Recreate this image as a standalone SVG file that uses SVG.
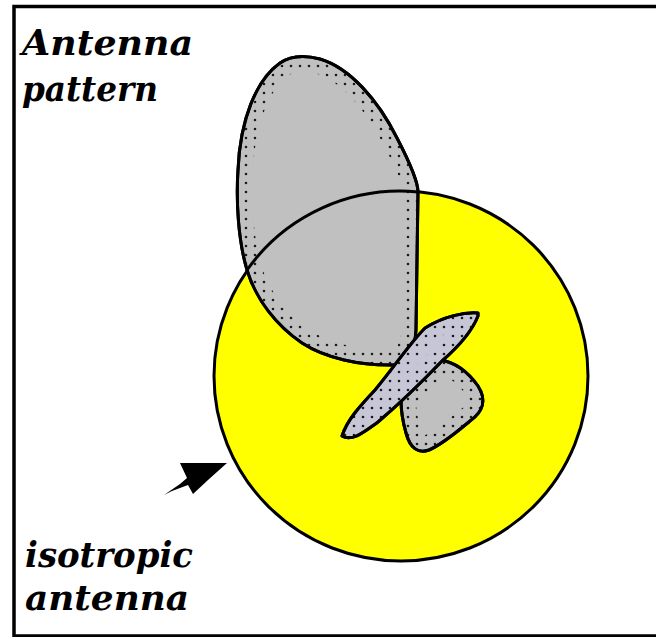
<svg xmlns="http://www.w3.org/2000/svg" width="656" height="637" viewBox="0 0 656 637">
<style>
.lbl{font-family:"DejaVu Serif","Liberation Serif",serif;font-weight:bold;font-style:italic;font-size:36px;fill:#000}
.lobe{fill:#c0c0c0;stroke:#000;stroke-width:3;stroke-linejoin:round}
.stip{fill:none;stroke:url(#dots);stroke-width:30}
.edge{fill:none;stroke:#000;stroke-width:3;stroke-linejoin:round}
</style>
<defs>
<pattern id="dots" width="9" height="9" patternUnits="userSpaceOnUse">
<circle cx="3" cy="3" r="1.3" fill="#1a1a1a"/>
</pattern>
<path id="p-main" d="M247,270 C238,240 236,200 238,170 C240,120 256,80 280,63 C290,56 305,55 320,59 C350,68 378,100 397,138 C410,163 418,182 418,192 L416,330 C415,350 407,364 395,365 C360,366 325,358 302,343 C277,326 256,300 247,270 Z"/>
<path id="p-blob" d="M440,360 C455,362 468,372 478,386 C487,400 483,412 470,421 C458,431 443,444 429,450 C418,454 410,448 406,433 C402,419 401,409 401,400 Z"/>
<path id="p-thin" d="M478,313 C465,312 444,316 425,328 C410,343 395,366 375,390 C360,406 347,420 342,436 C352,442 364,432 378,422 C398,405 418,386 442,361 C457,348 471,334 478,316 Z"/>
<clipPath id="c-main"><use href="#p-main"/></clipPath>
<clipPath id="c-blob"><use href="#p-blob"/></clipPath>
<clipPath id="c-thin"><use href="#p-thin"/></clipPath>
</defs>
<rect width="656" height="637" fill="#fff"/>
<path d="M700,6.5 L14,6.5 L14,636 L700,636" fill="none" stroke="#000" stroke-width="3.5"/>
<g id="isotropic">
<ellipse cx="401" cy="376" rx="187" ry="185" fill="#ffff00" stroke="#000" stroke-width="3"/>
</g>
<g id="main-lobe">
<use href="#p-main" class="lobe"/>
<use href="#p-main" class="stip" clip-path="url(#c-main)"/>
<use href="#p-main" class="edge"/>
</g>
<path d="M247,270 A187,185 0 0 1 418,192" fill="none" stroke="#000" stroke-width="3"/>
<g id="blob-lobe">
<use href="#p-blob" class="lobe"/>
<use href="#p-blob" class="stip" clip-path="url(#c-blob)"/>
<use href="#p-blob" class="edge"/>
</g>
<g id="thin-lobe">
<use href="#p-thin" class="lobe" style="fill:#c6c6d6"/>
<use href="#p-thin" class="stip" clip-path="url(#c-thin)"/>
<use href="#p-thin" class="edge"/>
</g>
<g id="connectors">
<path d="M180,463 L227,463 L208,480 L193,494 L188,485 L172,491 L164,495 L180,484 L187,478 Z" fill="#000"/>
</g>
<g id="labels">
<text class="lbl" x="22" y="55" textLength="171" lengthAdjust="spacingAndGlyphs">Antenna</text>
<text class="lbl" x="22" y="101" textLength="136" lengthAdjust="spacingAndGlyphs">pattern</text>
<text class="lbl" x="25" y="567" textLength="168" lengthAdjust="spacingAndGlyphs">isotropic</text>
<text class="lbl" x="25" y="610" textLength="164" lengthAdjust="spacingAndGlyphs">antenna</text>
</g>
</svg>
